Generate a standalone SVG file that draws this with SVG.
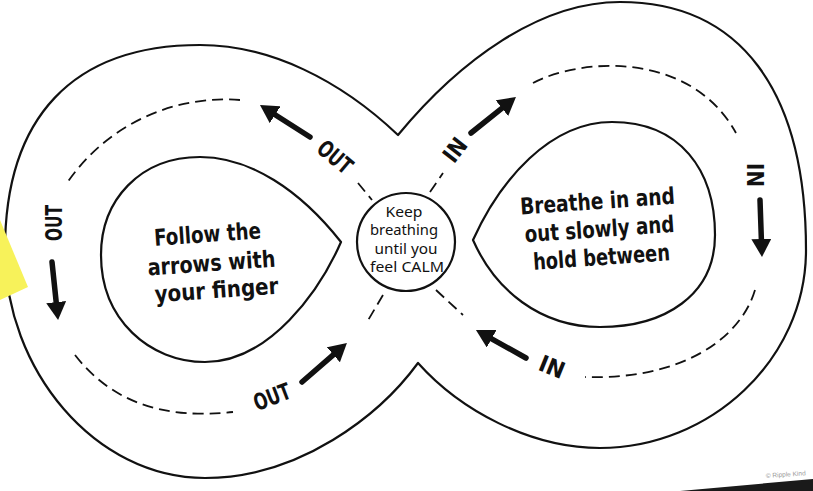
<svg xmlns="http://www.w3.org/2000/svg" width="813" height="491" viewBox="0 0 813 491">
<style>
.line{fill:none;stroke:#111;stroke-width:2.2;stroke-linejoin:round}
.fill{fill:#fff}
.dash{fill:none;stroke:#111;stroke-width:1.8;stroke-dasharray:11 6}
.arrow{fill:none;stroke:#111;stroke-width:5.5;stroke-linecap:round;marker-end:url(#head)}
.lbl{font-family:"DejaVu Sans",sans-serif;font-weight:bold;font-size:23px;fill:#111;text-anchor:middle}
.big{font-family:"DejaVu Sans",sans-serif;font-weight:bold;font-size:23px;fill:#111;text-anchor:middle}
.small{font-family:"Noto Sans","Open Sans",sans-serif;font-size:14px;fill:#111;text-anchor:middle}
</style>
<defs>
<marker id="head" viewBox="0 0 18 20" refX="1" refY="10" markerWidth="18" markerHeight="20" markerUnits="userSpaceOnUse" orient="auto">
<path d="M0,0 L18,10 L0,20 z" fill="#111"/>
</marker>
</defs>
<rect width="813" height="491" fill="#fff"/>
<g id="track">
<path class="line fill" d="M398,135 C340,80 270,45 200,45 C73,45 5,117 5,250 C5,370 95,478 205,478 C300,478 380,415 418,363 C460,410 530,448 600,448 C710,448 806,360 806,250 C806,90 740,2 620,2 C540,2 460,60 398,135 Z"/>
</g>
<g id="left-drop">
<path class="line" d="M341,242 C300,190 250,157 200,157 C140,157 101,200 101,255 C101,320 150,362 205,362 C270,362 320,290 341,242 Z"/>
<g class="big">
<text transform="translate(208,242) rotate(-4)" textLength="107" lengthAdjust="spacingAndGlyphs">Follow the</text>
<text transform="translate(212,271) rotate(-4)" textLength="128" lengthAdjust="spacingAndGlyphs">arrows with</text>
<text transform="translate(217,298) rotate(-4)" textLength="124" lengthAdjust="spacingAndGlyphs">your finger</text>
</g>
</g>
<g id="right-drop">
<path class="line" d="M473,240 C500,180 550,122 612,122 C680,122 715,170 715,235 C715,295 665,327 600,327 C540,327 495,290 473,240 Z"/>
<g class="big">
<text transform="translate(598,209) rotate(-4)" textLength="155" lengthAdjust="spacingAndGlyphs">Breathe in and</text>
<text transform="translate(600,237) rotate(-4)" textLength="150" lengthAdjust="spacingAndGlyphs">out slowly and</text>
<text transform="translate(602,265) rotate(-4)" textLength="137" lengthAdjust="spacingAndGlyphs">hold between</text>
</g>
</g>
<g id="center">
<circle class="line fill" cx="406" cy="242" r="49"/>
<g class="small">
<text x="404" y="217" textLength="37" lengthAdjust="spacingAndGlyphs">Keep</text>
<text x="404" y="235" textLength="68" lengthAdjust="spacingAndGlyphs">breathing</text>
<text x="406" y="254" textLength="63" lengthAdjust="spacingAndGlyphs">until you</text>
<text x="407" y="272" textLength="74" lengthAdjust="spacingAndGlyphs">feel CALM</text>
</g>
</g>
<g id="connectors">
<path class="dash" d="M240,100 C180,95 110,120 67,183"/>
<path class="dash" d="M75,355 C110,400 160,420 233,412"/>
<path class="dash" d="M533,83 C580,58 690,50 736,133"/>
<path class="dash" d="M755,290 C740,340 680,380 585,377"/>
<path class="dash" d="M358,183 L372,200"/>
<path class="dash" d="M383,295 L367,322"/>
<path class="dash" d="M430,192 L443,173"/>
<path class="dash" d="M436,290 L463,315"/>
<path class="arrow" d="M310,137 L274.3,114.2"/>
<path class="arrow" d="M52,262 L56.3,303.1"/>
<path class="arrow" d="M302,382 L334.1,354.1"/>
<path class="arrow" d="M471,133 L502.7,107.6"/>
<path class="arrow" d="M760,200 L761.4,240"/>
<path class="arrow" d="M526,358 L490.8,338.3"/>
</g>
<g id="labels" class="lbl">
<text transform="translate(335,157) rotate(40)" y="8" textLength="38" lengthAdjust="spacingAndGlyphs">OUT</text>
<text transform="translate(54,223) rotate(-90)" y="8" textLength="36" lengthAdjust="spacingAndGlyphs">OUT</text>
<text transform="translate(272,397) rotate(-21)" y="8" textLength="38" lengthAdjust="spacingAndGlyphs">OUT</text>
<text transform="translate(455,150) rotate(-52)" y="8" textLength="24" lengthAdjust="spacingAndGlyphs">IN</text>
<text transform="translate(755,175) rotate(90)" y="8" textLength="24" lengthAdjust="spacingAndGlyphs">IN</text>
<text transform="translate(552,367) rotate(22)" y="8" textLength="26" lengthAdjust="spacingAndGlyphs">IN</text>
</g>
<polygon points="0,220 28,287 0,300" fill="#f7f25a"/>
<text x="766" y="478" transform="rotate(-4 766 478)" font-family="Liberation Sans, sans-serif" font-size="6.5" fill="#9a9a9a">© Ripple Kind</text>
<polygon points="680,491 813,479 813,491" fill="#1a1a1a"/>
</svg>
